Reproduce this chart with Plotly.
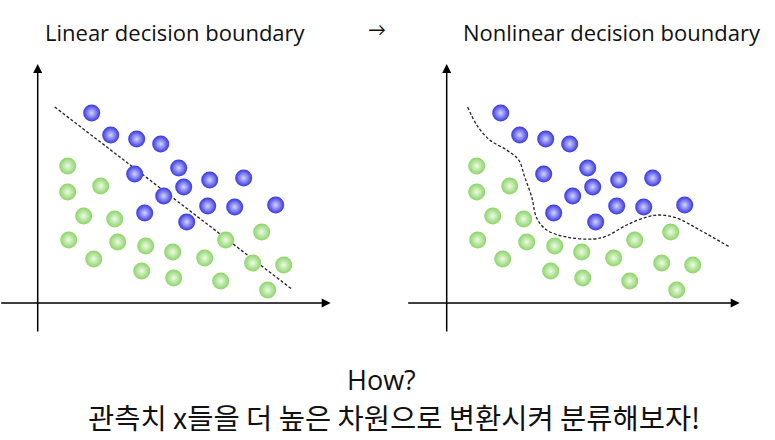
import plotly.graph_objects as go

# Data coordinates (origin at the axes crossing)
blue_x = [5.4, 7.3, 9.9, 12.3, 14.1, 9.7, 17.2, 20.6, 14.6, 12.6, 17.0, 19.7, 23.8, 10.7, 14.9]
blue_y = [19.0, 16.8, 16.4, 15.9, 13.5, 12.9, 12.3, 12.5, 11.6, 10.7, 9.7, 9.6, 9.8, 9.0, 8.1]
green_x = [3.0, 3.0, 6.3, 4.6, 7.7, 3.1, 8.0, 10.8, 13.5, 16.7, 18.8, 22.4, 5.6, 10.4, 13.6, 18.3, 21.5, 24.6, 23.0]
green_y = [13.7, 11.1, 11.7, 8.7, 8.4, 6.3, 6.1, 5.7, 5.1, 4.5, 6.3, 7.1, 4.4, 3.2, 2.5, 2.2, 4.0, 3.8, 1.3]
line_x = [1.7, 25.4]
line_y = [19.6, 1.4]
curve_x = [2.1, 3.0, 4.3, 6.0, 7.2, 7.8, 8.5, 9.0, 10.0, 12.0, 14.7, 16.0, 18.0, 20.0, 21.3, 23.0, 25.3, 28.3]
curve_y = [19.6, 17.8, 16.3, 15.3, 14.3, 12.6, 10.6, 8.5, 7.3, 6.6, 6.4, 6.7, 7.8, 8.6, 8.8, 8.5, 7.3, 5.6]

titles = ["Linear decision boundary", "→", "Nonlinear decision boundary"]
question = "How?"
subtitle = "관측치 x들을 더 높은 차원으로 변환시켜 분류해보자!"

W, H = 775, 440
fig = go.Figure()

def add_points(xa, ya):
    fig.add_trace(go.Scatter(x=blue_x, y=blue_y, mode="markers", xaxis=xa, yaxis=ya,
                             marker=dict(size=17, color="#3535e0", line=dict(width=0),
                                         gradient=dict(type="radial", color="#d4d4ff"))))
    fig.add_trace(go.Scatter(x=green_x, y=green_y, mode="markers", xaxis=xa, yaxis=ya,
                             marker=dict(size=17, color="#8ad466", line=dict(width=0),
                                         gradient=dict(type="radial", color="#eefae6"))))

fig.add_trace(go.Scatter(x=line_x, y=line_y, mode="lines", xaxis="x", yaxis="y",
                         line=dict(color="#222222", width=1.3, dash="3px,2px")))
add_points("x", "y")
fig.add_trace(go.Scatter(x=curve_x, y=curve_y, mode="lines", xaxis="x2", yaxis="y2",
                         line=dict(color="#222222", width=1.3, dash="3px,2px", shape="spline")))
add_points("x2", "y2")

# axis arrows
for xr, yr, x0, x1 in [("x", "y", -3.8, 29.3), ("x2", "y2", -4.0, 29.3)]:
    fig.add_annotation(x=x1, y=0, ax=x0, ay=0, xref=xr, yref=yr, axref=xr, ayref=yr,
                       showarrow=True, arrowhead=2, arrowsize=1.2, arrowwidth=1.5,
                       arrowcolor="black", text="")
    fig.add_annotation(x=0, y=23.9, ax=0, ay=-3.0, xref=xr, yref=yr, axref=xr, ayref=yr,
                       showarrow=True, arrowhead=2, arrowsize=1.2, arrowwidth=1.5,
                       arrowcolor="black", text="")

font_lat = "'Open Sans', Lato, sans-serif"
def txt(px, py, s, size, family=font_lat):
    fig.add_annotation(x=px / W, y=1 - py / H, xref="paper", yref="paper", text=s,
                       xanchor="center", yanchor="middle", showarrow=False,
                       font=dict(family=family, size=size, color="#111"))

txt(175, 32, titles[0], 22)
txt(377, 29, titles[1], 18)
txt(612, 32, titles[2], 22)
txt(381, 379, question, 27)
txt(394, 416, subtitle, 28.5, "'Noto Sans CJK KR', sans-serif")

ax_common = dict(visible=False, showgrid=False, zeroline=False, fixedrange=True)
fig.update_layout(
    width=W, height=H, margin=dict(l=0, r=0, t=0, b=0),
    paper_bgcolor="white", plot_bgcolor="white", showlegend=False,
    xaxis=dict(domain=[0, 340 / W], range=[-3.77, 30.23], **ax_common),
    yaxis=dict(domain=[0, 1], range=[-13.7, 30.3], **ax_common),
    xaxis2=dict(domain=[400 / W, 1], range=[-4.67, 32.83], **ax_common),
    yaxis2=dict(domain=[0, 1], range=[-13.7, 30.3], anchor="x2", **ax_common),
)
fig.write_html("out.html", config={"displayModeBar": False},
               post_script="document.body.style.margin='0';")
